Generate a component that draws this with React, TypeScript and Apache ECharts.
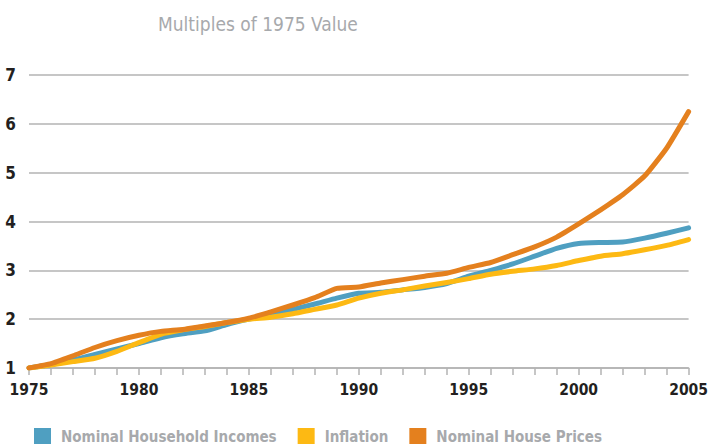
import React, { useEffect, useRef } from "react";
import * as echarts from "echarts";

const years = [
  "1975","1976","1977","1978","1979","1980","1981","1982","1983","1984",
  "1985","1986","1987","1988","1989","1990","1991","1992","1993","1994",
  "1995","1996","1997","1998","1999","2000","2001","2002","2003","2004","2005",
];
const incomes = [
  1.0, 1.07, 1.16, 1.28, 1.39, 1.5, 1.62, 1.7, 1.76, 1.89,
  2.0, 2.1, 2.2, 2.31, 2.43, 2.53, 2.55, 2.6, 2.65, 2.73,
  2.88, 3.0, 3.13, 3.29, 3.45, 3.55, 3.57, 3.58, 3.66, 3.76, 3.87,
];
const inflation = [
  1.0, 1.06, 1.13, 1.2, 1.34, 1.52, 1.69, 1.78, 1.85, 1.93,
  2.0, 2.04, 2.11, 2.2, 2.29, 2.43, 2.53, 2.6, 2.68, 2.75,
  2.83, 2.92, 2.98, 3.03, 3.1, 3.2, 3.29, 3.34, 3.42, 3.51, 3.63,
];
const housePrices = [
  1.0, 1.09, 1.25, 1.42, 1.56, 1.67, 1.75, 1.79, 1.86, 1.93,
  2.02, 2.15, 2.29, 2.44, 2.63, 2.66, 2.74, 2.81, 2.88, 2.94,
  3.06, 3.16, 3.32, 3.48, 3.68, 3.95, 4.24, 4.55, 4.93, 5.5, 6.25,
];
const seriesNames = ["Nominal Household Incomes", "Inflation", "Nominal House Prices"];
const colors = ["#4f9fc1", "#fdb913", "#e4801e"];

const FONT = "'DejaVu Sans Condensed', 'Liberation Sans Narrow', sans-serif";

export default function App() {
  const ref = useRef<HTMLDivElement>(null);
  useEffect(() => {
    if (!ref.current) return;
    const chart = echarts.init(ref.current, undefined, { renderer: "svg" });
    const mk = (name: string, data: number[], color: string) => ({
      name,
      type: "line",
      data,
      symbol: "none",
      smooth: 0.15,
      lineStyle: { width: 5, color, cap: "round", join: "round" },
      itemStyle: { color },
    });
    chart.setOption({
      animation: false,
      title: {
        text: "Multiples of 1975 Value",
        left: 153,
        top: 9,
        textStyle: { fontFamily: FONT, fontSize: 19, fontWeight: "normal", color: "#a7a9ac" },
      },
      legend: {
        left: 29,
        top: 423,
        icon: "rect",
        itemWidth: 17,
        itemHeight: 17,
        itemGap: 21,
        data: seriesNames,
        textStyle: {
          fontFamily: FONT,
          fontSize: 15,
          lineHeight: 15,
          fontWeight: "bold",
          color: "#a7a9ac",
          padding: [0, 0, 0, 5],
        },
      },
      grid: { left: 29, right: 18, top: 75, bottom: 76, containLabel: false },
      xAxis: {
        type: "category",
        data: years,
        boundaryGap: false,
        axisLine: { show: true, lineStyle: { color: "#b3b3b3", width: 1.5 } },
        axisTick: { show: true, interval: 0, length: 7, lineStyle: { color: "#b3b3b3", width: 1.5 } },
        axisLabel: {
          interval: 4,
          margin: 14,
          fontFamily: FONT,
          fontSize: 15.5,
          fontWeight: "bold",
          color: "#231f20",
        },
        splitLine: { show: false },
      },
      yAxis: {
        type: "value",
        min: 1,
        max: 7,
        interval: 1,
        axisLine: { show: false },
        axisTick: { show: false },
        axisLabel: {
          margin: 13,
          fontFamily: FONT,
          fontSize: 17,
          fontWeight: "bold",
          color: "#231f20",
        },
        splitLine: { show: true, lineStyle: { color: "#b3b3b3", width: 1.5 } },
      },
      series: [
        mk(seriesNames[0], incomes, colors[0]),
        mk(seriesNames[1], inflation, colors[1]),
        mk(seriesNames[2], housePrices, colors[2]),
      ],
    });
    return () => chart.dispose();
  }, []);
  return <div ref={ref} style={{ width: 711, height: 444, position: "absolute", left: 0, top: 0 }} />;
}
